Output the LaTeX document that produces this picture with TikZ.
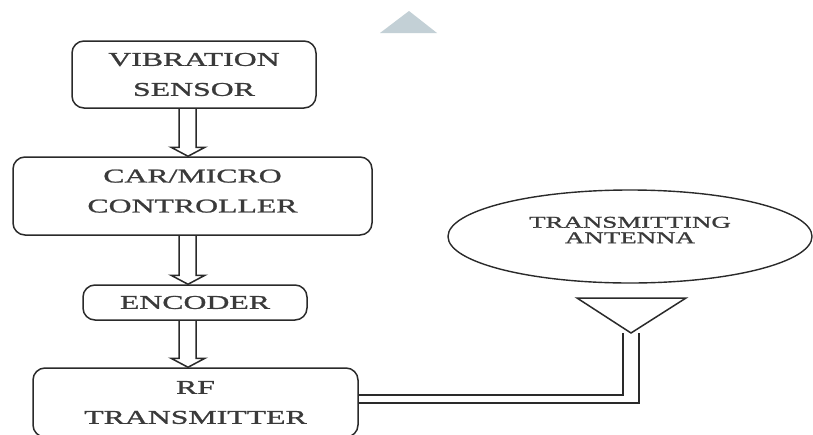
\documentclass[tikz,border=0pt]{standalone}
\usepackage{fontspec}
\newfontfamily\lbl[FakeStretch=1.63,FakeBold=1.2]{Liberation Serif}
\usetikzlibrary{calc,shapes.geometric}
\definecolor{ink}{HTML}{2A2A2A}
\definecolor{txt}{HTML}{3A3A3A}
\definecolor{wm}{HTML}{C3D0D6}
\tikzset{
  box/.style={draw=ink, line width=1.5pt, rounded corners=12pt, align=center,
    text=txt, inner sep=0pt, font=\lbl\fontsize{19.5}{30}\selectfont},
  oval/.style={draw=ink, line width=1.4pt, ellipse, align=center, inner sep=0pt,
    text=txt, font=\lbl\fontsize{16.5}{15.5}\selectfont},
  conn/.style={draw=ink, line width=1.5pt, line join=miter},
  wire/.style={draw=ink, line width=1.5pt, line join=miter},
}
\newcommand\hollowarrow[2]{%
  \draw[conn] (axl |- #1.south) -- ($(axl |- #2.north)+(0,-9)$)
    -- ($(hl |- #2.north)+(0,-9)$) -- (tip |- #2.north)
    -- ($(hr |- #2.north)+(0,-9)$) -- ($(axr |- #2.north)+(0,-9)$)
    -- (axr |- #1.south);}
\begin{document}
\begin{tikzpicture}[x=1pt,y=-1pt]
\useasboundingbox[fill=white] (0,0) rectangle (813,434);
% watermark triangle
\fill[wm] (380,33) -- (409,11) -- (437,33) -- cycle;
% coordinates for the hollow arrows
\coordinate (axl) at (179,0);
\coordinate (axr) at (196,0);
\coordinate (hl) at (171,0);
\coordinate (hr) at (205,0);
\coordinate (tip) at (188,0);
% boxes
\node[box, minimum width=244pt, minimum height=67pt] (vs) at (194,74.5) {VIBRATION\\SENSOR};
\node[box, minimum width=359pt, minimum height=78pt, text depth=10pt] (mc) at (192.5,196) {CAR/MICRO\\CONTROLLER};
\node[box, minimum width=224pt, minimum height=35pt] (enc) at (195,302.5) {ENCODER};
\node[box, minimum width=325pt, minimum height=69pt] (rf) at (195.5,402.5) {RF\\TRANSMITTER};
% ellipse
\node[oval, minimum width=364pt, minimum height=93pt, text depth=13pt] (ant) at (630,236.5) {TRANSMITTING\\ANTENNA};
% arrows
\hollowarrow{vs}{mc}
\hollowarrow{mc}{enc}
\hollowarrow{enc}{rf}
% antenna symbol
\coordinate (apex) at (631,333);
\coordinate (fi) at (623,333);
\coordinate (fo) at (639,333);
\draw[wire] (577,298) -- (686,298) -- (apex) -- cycle;
\draw[wire] ([yshift=7.5pt]rf.east) -| (fi);
\draw[wire] ([yshift=-0.5pt]rf.east) -| (fo);
\end{tikzpicture}
\end{document}
